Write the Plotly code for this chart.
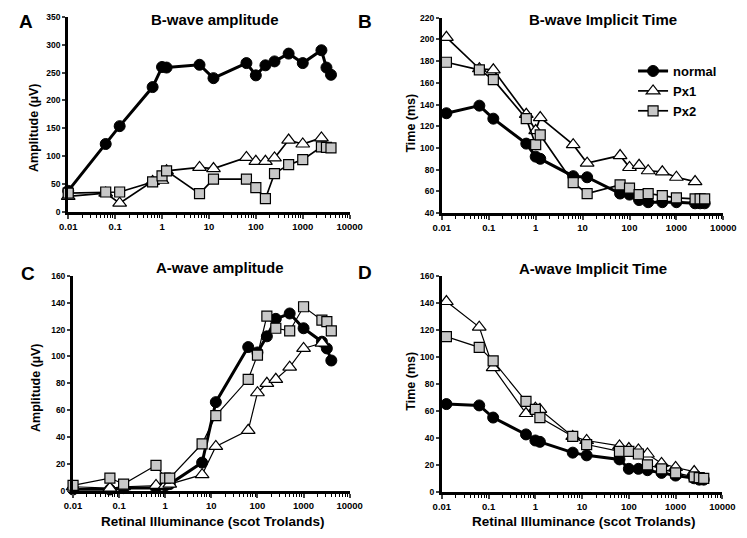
import plotly.graph_objects as go

W, H = 747, 538

# ---------------- data ----------------
illum_a = [0.01, 0.063, 0.125, 0.63, 1, 1.25, 6.3, 12.5, 63, 100, 160, 250, 500, 1000, 2500, 3200, 4000]
illum_b = [0.0125, 0.063, 0.125, 0.63, 1, 1.25, 6.3, 12.5, 63, 100, 160, 250, 500, 1000, 2500, 3200, 4000]

bamp_normal = [38, 122, 154, 224, 260, 259, 264, 240, 267, 245, 263, 270, 284, 267, 290, 259, 246]
bamp_px1 = [28, 34, 16, 55, 57, 74, 80, 78, 98, 91, 91, 97, 129, 122, 133]
bamp_px2 = [34, 36, 36, 54, 65, 74, 33, 59, 59, 44, 24, 69, 85, 94, 117, 116, 115]

btime_normal = [132, 139, 127, 104, 92, 90, 74, 73, 58, 57, 52, 50, 50, 50, 49, 49, 49]
btime_px1 = [202, 173, 172, 131, 116, 128, 103, 86, 93, 82, 84, 79, 78, 73, 69]
btime_px2 = [179, 172, 163, 127, 103, 112, 68, 58, 66, 63, 57, 58, 56, 54, 53, 53, 53]

aamp_normal = [1, 1, 2, 2, 4, 5, 21, 66, 107, 103, 115, 128, 132, 121, 111, 106, 97]
aamp_px1 = [3, 2, 3, 4, 4, 5, 12, 33, 45, 73, 80, 83, 92, 106, 110]
aamp_px2 = [4, 9.5, 5, 19, 9.5, 9.5, 35, 56, 83, 101, 130, 121, 119, 137, 127, 126, 119]

atime_normal = [65, 64, 55, 42.5, 38, 37, 29, 27, 24, 17, 17, 16, 14, 12, 10, 9, 9]
atime_px1 = [141, 122, 92, 58, 62, 61, 41, 38, 34, 32, 31, 28, 21, 18, 15]
atime_px2 = [115, 107, 97, 67, 61, 55, 41, 35, 30, 30, 28, 20, 17, 14, 11, 10.5, 10]

x_tickvals = [0.01, 0.1, 1, 10, 100, 1000, 10000]
x_ticktext = ["0.01", "0.1", "1", "10", "100", "1000", "10000"]
minor_vals = [m * d for d in [0.01, 0.1, 1, 10, 100, 1000] for m in range(2, 10)]

series_names = ["normal", "Px1", "Px2"]

# ---------------- styles ----------------
FONT = "Liberation Sans, Arial, sans-serif"

def styles(k, thin):
    if k == 0:
        return dict(line=dict(color="black", width=3),
                    marker=dict(symbol="circle", size=11, color="black", line=dict(color="black", width=1)))
    w = 1.2 if thin else 1.7
    if k == 1:
        return dict(line=dict(color="black", width=w),
                    marker=dict(symbol="triangle-up", size=12, color="white", line=dict(color="black", width=1.2)))
    return dict(line=dict(color="black", width=w),
                marker=dict(symbol="square", size=10, color="#c8c8c8", line=dict(color="black", width=1.2)))

def px_x(p):
    return p / W

def px_y(p):
    return 1 - p / H

panels = [
    ("1", 61, 351, 12, 211, [0, 350], 50, illum_a, [bamp_normal, bamp_px1, bamp_px2], False),
    ("2", 446, 736, 13, 212, [40, 220], 20, illum_b, [btime_normal, btime_px1, btime_px2], False),
    ("3", 66, 351, 276, 495, [0, 160], 20, illum_a, [aamp_normal, aamp_px1, aamp_px2], True),
    ("4", 446, 735, 276, 496, [0, 160], 20, illum_b, [atime_normal, atime_px1, atime_px2], True),
]

fig = go.Figure()
layout = {}
for (aid, x0, x1, yt, yb, yr, dt, xv, data, thin) in panels:
    xa = "x" if aid == "1" else "x" + aid
    ya = "y" if aid == "1" else "y" + aid
    for k, vals in enumerate(data):
        fig.add_trace(go.Scatter(
            x=xv[:len(vals)], y=vals, mode="lines+markers", name=series_names[k],
            xaxis=xa, yaxis=ya, cliponaxis=False,
            showlegend=(aid == "2"), **styles(k, thin)))
    xkey = "xaxis" if aid == "1" else "xaxis" + aid
    ykey = "yaxis" if aid == "1" else "yaxis" + aid
    layout[xkey] = dict(
        type="log", range=[-2, 4], domain=[px_x(x0), px_x(x1)], anchor=ya,
        tickmode="array", tickvals=x_tickvals, ticktext=x_ticktext,
        ticks="outside", ticklen=4, tickwidth=1.5,
        showline=True, linewidth=3, linecolor="black", showgrid=False, zeroline=False,
        tickfont=dict(family=FONT, size=9.5, color="black", weight="bold"),
        minor=dict(tickmode="array", tickvals=minor_vals, ticks="outside", ticklen=3,
                   tickwidth=1.2, tickcolor="black", showgrid=False),
        fixedrange=True,
    )
    layout[ykey] = dict(
        range=yr, dtick=dt, domain=[px_y(yb), px_y(yt)], anchor=xa,
        ticks="outside", ticklen=3, tickwidth=1.5,
        showline=True, linewidth=3, linecolor="black", showgrid=False, zeroline=False,
        tickfont=dict(family=FONT, size=8.5, color="black", weight="bold"),
        fixedrange=True,
    )

ann = []
def add_text(text, x, y, size, angle=0):
    ann.append(dict(text=text, x=px_x(x), y=px_y(y), xref="paper", yref="paper",
                    showarrow=False, textangle=angle, xanchor="center", yanchor="middle",
                    font=dict(family=FONT, size=size, color="black", weight="bold")))

# panel letters
add_text("A", 18, 17, 19)
add_text("B", 367, 17, 19)
add_text("C", 20, 274, 19)
add_text("D", 367, 273, 19)
# titles
add_text("B-wave amplitude", 212, 15, 15)
add_text("B-wave Implicit Time", 612, 15, 15)
add_text("A-wave amplitude", 217, 267, 15)
add_text("A-wave Implicit Time", 602, 268, 15)
# y titles
add_text("Amplitude (µV)", 25, 125, 12.5, -90)
add_text("Time (ms)", 414, 120, 12.5, -90)
add_text("Amplitude (µV)", 28, 390, 12.5, -90)
add_text("Time (ms)", 414, 383, 12.5, -90)
# x titles
add_text("Retinal Illuminance (scot Trolands)", 210, 526, 13.5)
add_text("Retinal Illuminance (scot Trolands)", 592, 526, 13.5)

fig.update_layout(
    width=W, height=H, margin=dict(l=0, r=0, t=0, b=0),
    paper_bgcolor="white", plot_bgcolor="white",
    annotations=ann,
    legend=dict(x=px_x(643), y=px_y(52), xanchor="left", yanchor="top",
                bgcolor="rgba(0,0,0,0)", tracegroupgap=0,
                font=dict(family=FONT, size=13, color="black", weight="bold")),
    **layout,
)

fig.write_html("out.html", config={"displayModeBar": False})
